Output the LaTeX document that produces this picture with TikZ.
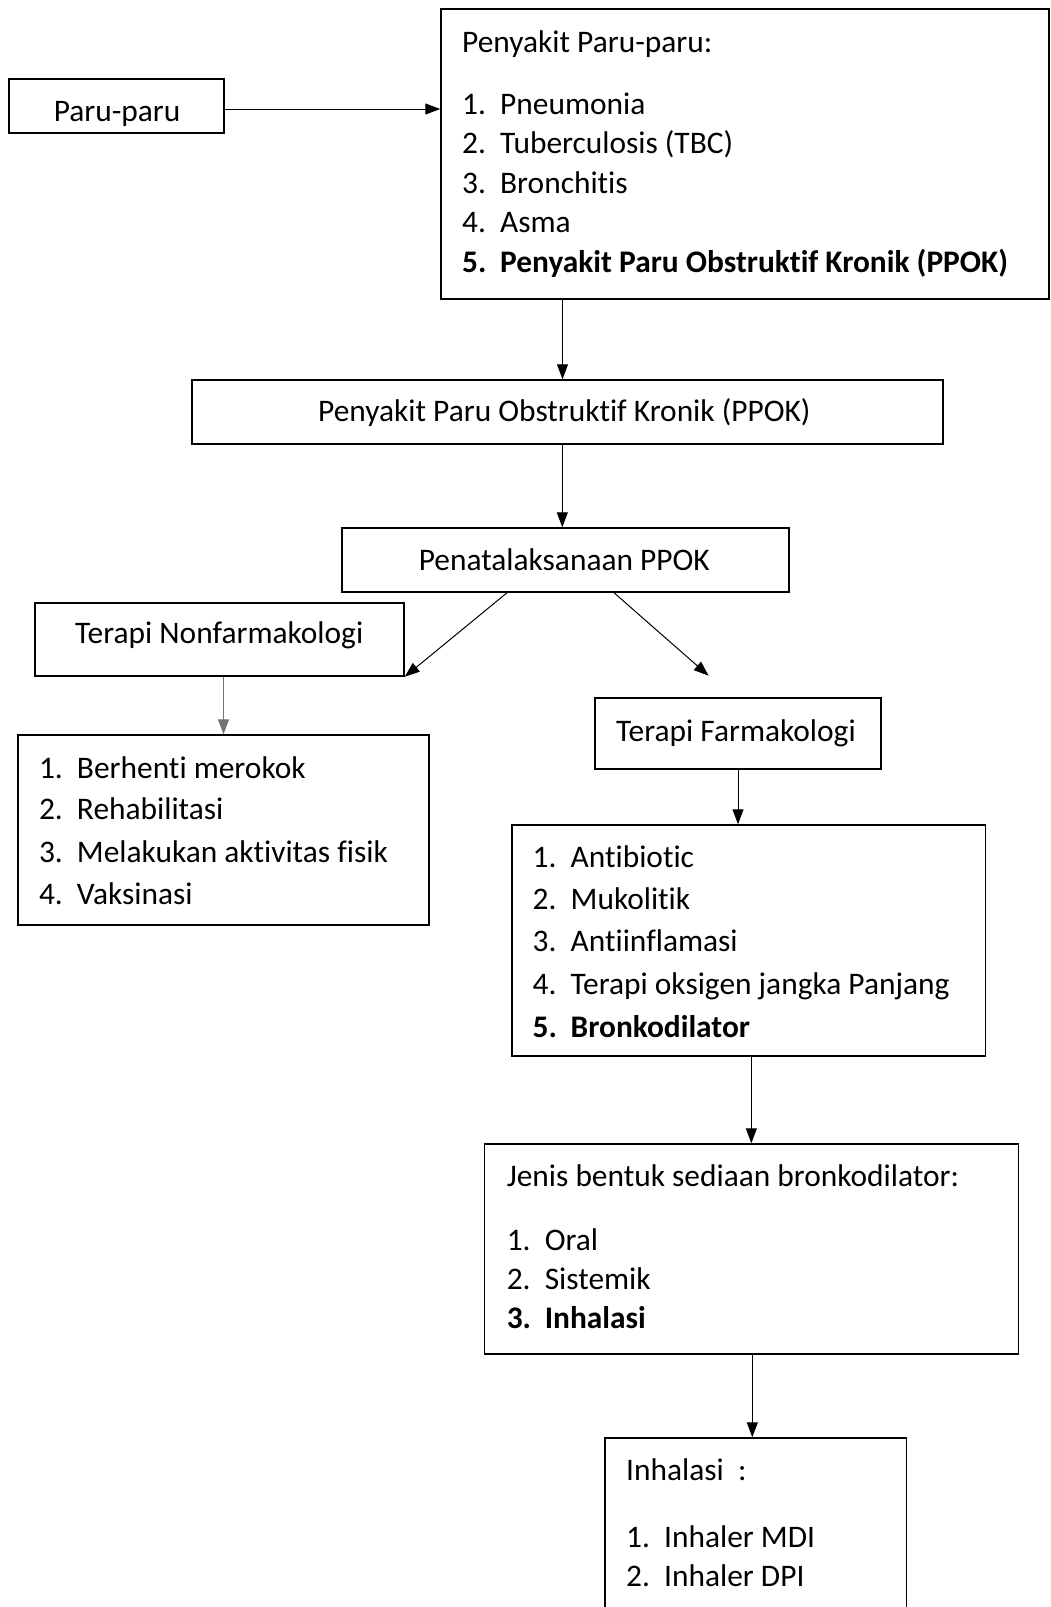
\documentclass[tikz,border=0pt]{standalone}
\usepackage{fontspec}
\setmainfont{Carlito}[Ligatures=NoCommon]
\usetikzlibrary{arrows.meta}
\newcommand{\itm}[2]{\makebox[38pt][l]{#1}#2}
\begin{document}
\begin{tikzpicture}[x=1pt,y=-1pt,
  box/.style={draw, line width=1.5pt, inner sep=0pt, fill=white},
  txt/.style={anchor=base west, inner sep=0pt, font=\fontsize{31.4}{37}\selectfont},
  arr/.style={-{Triangle[length=15pt,width=11pt]}, line width=1pt},
  grayarr/.style={arr, draw=black!55, fill=black!55}]
\fill[white] (0,0) rectangle (1050,1607);
\useasboundingbox (0,0) rectangle (1050,1607);

% boxes
\node[box, minimum width=215pt, minimum height=54pt] (paru) at (116.5,106) {};
\node[box, minimum width=608pt, minimum height=290pt] (big) at (745,154) {};
\node[box, minimum width=751pt, minimum height=64pt] (ppok) at (567.5,412) {};
\node[box, minimum width=447pt, minimum height=64pt] (pen) at (565.3,560) {};
\node[box, minimum width=369pt, minimum height=73pt] (nonf) at (219.5,639.5) {};
\node[box, minimum width=286pt, minimum height=71pt] (farm) at (738,733.5) {};
\node[box, minimum width=411pt, minimum height=190pt] (nlist) at (223.5,830) {};
\node[box, minimum width=473.5pt, minimum height=231pt] (flist) at (748.75,940.5) {};
\node[box, minimum width=534pt, minimum height=210pt] (jenis) at (751.35,1249) {};
\node[box, minimum width=301.6pt, minimum height=182pt] (inh) at (755.8,1529) {};

% texts
\node[txt] (tparu) at (53.6,121.5) {Paru-paru};
\node[txt] (tbig0) at (462,52.5) {Penyakit Paru-paru:};
\node[txt] (tbig1) at (462,114) {\itm{1.}{Pneumonia}};
\node[txt] (tbig2) at (462,153.5) {\itm{2.}{Tuberculosis (TBC)}};
\node[txt] (tbig3) at (462,193) {\itm{3.}{Bronchitis}};
\node[txt] (tbig4) at (462,232) {\itm{4.}{Asma}};
\node[txt] (tbig5) at (462,272) {\textbf{\itm{5.}{Penyakit Paru Obstruktif Kronik (PPOK)}}};
\node[txt] (tppok) at (318,421.7) {Penyakit Paru Obstruktif Kronik (PPOK)};
\node[txt] (tpen) at (418.6,570) {Penatalaksanaan PPOK};
\node[txt] (tnonf) at (75,643.3) {Terapi Nonfarmakologi};
\node[txt] (tfarm) at (616,741.7) {Terapi Farmakologi};
\node[txt] (tn1) at (38.8,778.3) {\itm{1.}{Berhenti merokok}};
\node[txt] (tn2) at (38.8,819.3) {\itm{2.}{Rehabilitasi}};
\node[txt] (tn3) at (38.8,862.5) {\itm{3.}{Melakukan aktivitas fisik}};
\node[txt] (tn4) at (38.8,904) {\itm{4.}{Vaksinasi}};
\node[txt] (tf1) at (532.5,867.3) {\itm{1.}{Antibiotic}};
\node[txt] (tf2) at (532.5,909.3) {\itm{2.}{Mukolitik}};
\node[txt] (tf3) at (532.5,951.5) {\itm{3.}{Antiinflamasi}};
\node[txt] (tf4) at (532.5,994) {\itm{4.}{Terapi oksigen jangka Panjang}};
\node[txt] (tf5) at (532.5,1037) {\textbf{\itm{5.}{Bronkodilator}}};
\node[txt] (tj0) at (506.6,1186.7) {Jenis bentuk sediaan bronkodilator:};
\node[txt] (tj1) at (506.6,1250.8) {\itm{1.}{Oral}};
\node[txt] (tj2) at (506.6,1289.3) {\itm{2.}{Sistemik}};
\node[txt] (tj3) at (506.6,1328.3) {\textbf{\itm{3.}{Inhalasi}}};
\node[txt] (ti0) at (626,1480) {Inhalasi~~:};
\node[txt] (ti1) at (626,1547) {\itm{1.}{Inhaler MDI}};
\node[txt] (ti2) at (626,1586.8) {\itm{2.}{Inhaler DPI}};

% connectors
\coordinate (freeend) at (708.6,675.7);
\draw[arr] ([yshift=-3pt]paru.east) -- ([yshift=-3pt]paru.east -| big.west);
\draw[arr] ([xshift=-5pt]ppok.north |- big.south) -- ([xshift=-5pt]ppok.north);
\draw[arr] ([xshift=-3pt]pen.north |- ppok.south) -- ([xshift=-3pt]pen.north);
\draw[arr] ([xshift=-58.3pt]pen.south) -- (nonf.south east);
\draw[arr] ([xshift=48.7pt]pen.south) -- (freeend);
\draw[grayarr] (nlist.north |- nonf.south) -- (nlist.north);
\draw[arr] (farm.south) -- (farm.south |- flist.north);
\draw[arr] (jenis.north |- flist.south) -- (jenis.north);
\draw[arr] ([xshift=-3.5pt]inh.north |- jenis.south) -- ([xshift=-3.5pt]inh.north);
\end{tikzpicture}
\end{document}
